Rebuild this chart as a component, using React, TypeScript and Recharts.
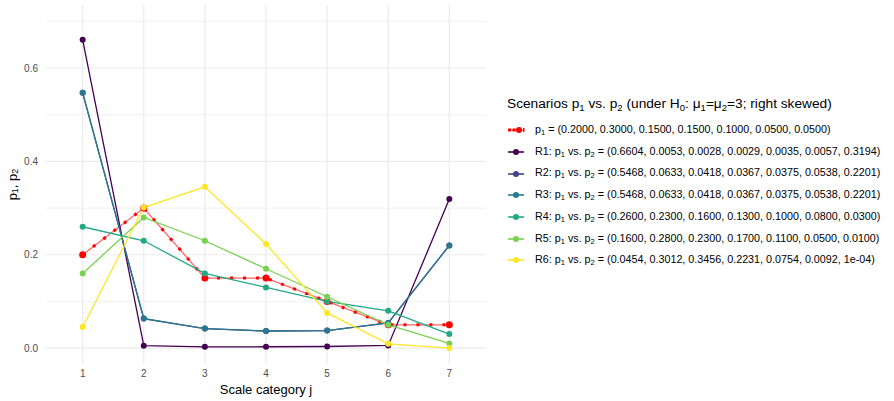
import React from 'react';
import { LineChart, Line, XAxis, YAxis, CartesianGrid, Label } from 'recharts';

const categories = [1, 2, 3, 4, 5, 6, 7];
const p1 = [0.2, 0.3, 0.15, 0.15, 0.1, 0.05, 0.05];
const r1 = [0.6604, 0.0053, 0.0028, 0.0029, 0.0035, 0.0057, 0.3194];
const r2 = [0.5468, 0.0633, 0.0418, 0.0367, 0.0375, 0.0538, 0.2201];
const r3 = [0.5468, 0.0633, 0.0418, 0.0367, 0.0375, 0.0538, 0.2201];
const r4 = [0.26, 0.23, 0.16, 0.13, 0.1, 0.08, 0.03];
const r5 = [0.16, 0.28, 0.23, 0.17, 0.11, 0.05, 0.01];
const r6 = [0.0454, 0.3012, 0.3456, 0.2231, 0.0754, 0.0092, 0.0001];
const r6Labels = ['0.0454', '0.3012', '0.3456', '0.2231', '0.0754', '0.0092', '1e-04'];
const yTicks = [0, 0.2, 0.4, 0.6];
const yMinor = [0.1, 0.3, 0.5, 0.7];

const series = [
  { key: 'r1', name: 'R1', values: r1, color: '#440154' },
  { key: 'r2', name: 'R2', values: r2, color: '#414487' },
  { key: 'r3', name: 'R3', values: r3, color: '#2A788E' },
  { key: 'r4', name: 'R4', values: r4, color: '#22A884' },
  { key: 'r5', name: 'R5', values: r5, color: '#7AD151' },
  { key: 'r6', name: 'R6', values: r6, color: '#FDE725' },
];

const data = categories.map((c, i) => {
  const row: Record<string, number> = { j: c, p1: p1[i] };
  series.forEach((s) => (row[s.key] = s.values[i]));
  return row;
});

const fmt = (v: number[]) => v.map((x) => x.toFixed(4)).join(', ');

const FONT = '"Liberation Sans", Arial, Helvetica, sans-serif';
const GRID = '#EBEBEB';

const YTitle = (props: any) => {
  const vb = props.viewBox || {};
  const cx = 12;
  const cy = vb.y + vb.height / 2;
  return (
    <text
      x={cx}
      y={cy}
      transform={`rotate(-90 ${cx} ${cy})`}
      textAnchor="middle"
      dominantBaseline="central"
      fontSize={13}
      fill="#000"
      fontFamily={FONT}
    >
      p<tspan fontSize={9} dy={3}>1</tspan>
      <tspan dy={-3}>, p</tspan>
      <tspan fontSize={9} dy={3}>2</tspan>
    </text>
  );
};

const Key = ({ color, red }: { color: string; red?: boolean }) => (
  <svg width={18} height={10} style={{ verticalAlign: 'middle', marginRight: 10 }}>
    {red ? (
      <g>
        <line x1={1} y1={5} x2={17} y2={5} stroke="#FF0000" strokeOpacity={0.6} strokeWidth={1.2} />
        <rect x={1} y={3.5} width={3} height={3} fill="#FF0000" />
        <rect x={5.5} y={3.5} width={3} height={3} fill="#FF0000" />
        <circle cx={12} cy={5} r={3} fill="#FF0000" />
        <rect x={16} y={3} width={1.5} height={4} fill="#FF0000" />
      </g>
    ) : (
      <g>
        <line x1={1} y1={5} x2={17} y2={5} stroke={color} strokeWidth={1.6} />
        <circle cx={9} cy={5} r={3} fill={color} />
      </g>
    )}
  </svg>
);

const Sub = ({ children }: { children: React.ReactNode }) => (
  <sub style={{ fontSize: '0.7em', verticalAlign: '-0.3em', lineHeight: 0 }}>{children}</sub>
);

export default function App() {
  return (
    <div style={{ position: 'relative', width: 894, height: 401, background: '#fff', fontFamily: FONT }}>
      <style>{`body{margin:0}`}</style>
      <LineChart
        width={894}
        height={401}
        data={data}
        margin={{ top: 5, right: 408, bottom: 0, left: 0 }}
      >
        <CartesianGrid
          horizontal
          vertical={false}
          horizontalValues={yMinor}
          stroke={GRID}
          strokeWidth={0.7}
        />
        <CartesianGrid
          horizontal
          vertical
          horizontalValues={yTicks}
          verticalValues={categories}
          stroke={GRID}
          strokeWidth={1.2}
        />
        <XAxis
          dataKey="j"
          type="number"
          domain={[0.4, 7.6]}
          ticks={categories}
          height={37}
          axisLine={false}
          tickLine={false}
          tickSize={4}
          tickMargin={2}
          tick={{ fill: '#4D4D4D', fontSize: 10, fontFamily: FONT }}
        >
          <Label
            value="Scale category j"
            position="insideBottom"
            offset={7}
            fill="#000"
            fontSize={13}
            fontFamily={FONT}
          />
        </XAxis>
        <YAxis
          type="number"
          domain={[-0.034, 0.735]}
          ticks={yTicks}
          width={46}
          axisLine={false}
          tickLine={false}
          tickSize={4}
          tickMargin={4}
          tickFormatter={(v: number) => v.toFixed(1)}
          tick={{ fill: '#4D4D4D', fontSize: 10, fontFamily: FONT }}
        >
          <Label content={<YTitle />} />
        </YAxis>
        <Line
          dataKey="p1"
          stroke="#FF0000"
          strokeOpacity={0.6}
          strokeWidth={1.3}
          dot={{ r: 3.5, fill: '#FF0000', stroke: 'none' }}
          isAnimationActive={false}
        />
        <Line
          dataKey="p1"
          stroke="#FF0000"
          strokeWidth={3}
          strokeDasharray="3 10"
          dot={false}
          activeDot={false}
          legendType="none"
          isAnimationActive={false}
        />
        {series.map((s) => (
          <Line
            key={s.key}
            dataKey={s.key}
            stroke={s.color}
            strokeWidth={1.3}
            dot={{ r: 3, fill: s.color, stroke: 'none' }}
            isAnimationActive={false}
          />
        ))}
      </LineChart>
      <div
        style={{
          position: 'absolute',
          left: 507,
          top: 94,
          color: '#000',
          whiteSpace: 'nowrap',
        }}
      >
        <div style={{ fontSize: 13.7, lineHeight: '20px', marginBottom: 5 }}>
          Scenarios p<Sub>1</Sub> vs. p<Sub>2</Sub> (under H<Sub>0</Sub>: μ<Sub>1</Sub>=μ<Sub>2</Sub>=3; right skewed)
        </div>
        <div style={{ fontSize: 10.75, lineHeight: '21.7px' }}>
          <div>
            <Key color="#FF0000" red />
            p<Sub>1</Sub> = ({fmt(p1)})
          </div>
          {series.map((s) => (
            <div key={s.key}>
              <Key color={s.color} />
              {s.name}: p<Sub>1</Sub> vs. p<Sub>2</Sub> = (
              {s.key === 'r6' ? r6Labels.join(', ') : fmt(s.values)})
            </div>
          ))}
        </div>
      </div>
    </div>
  );
}
